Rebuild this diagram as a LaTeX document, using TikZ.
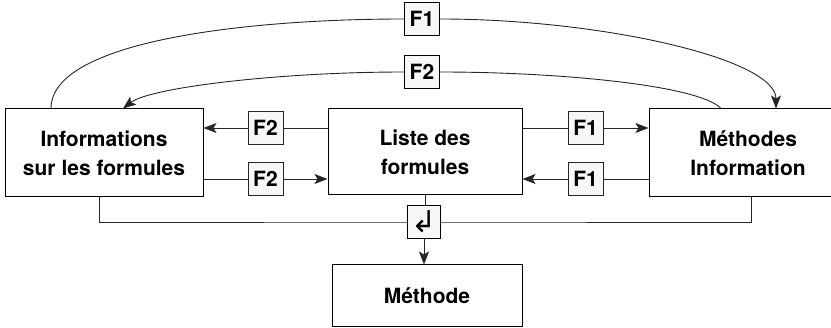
\documentclass[tikz,border=0pt]{standalone}
\usepackage{fontspec}
\setmainfont{TeX Gyre Heros}
\newfontfamily\symfont{DejaVu Sans}
\usetikzlibrary{arrows.meta}

\tikzset{
  bloc/.style={draw, fill=white, line width=1pt, align=center,
    font=\fontsize{21}{29}\selectfont\bfseries},
  etiq/.style={draw, fill=gray!6, line width=0.8pt, minimum width=35pt,
    minimum height=33pt, inner sep=0pt, font=\fontsize{21}{25}\selectfont\bfseries},
  fl/.style={line width=0.9pt, draw=black!85},
  arr/.style={fl, -{Stealth[length=13pt,width=10pt,inset=3pt]}}
}

\begin{document}
\begin{tikzpicture}[x=1pt, y=-1pt]
    \useasboundingbox (0,0) rectangle (831,328);

    % blocs
    \node[bloc, minimum width=198pt, minimum height=88pt] (info) at (104,153) {Informations\\sur les formules};
    \node[bloc, minimum width=194pt, minimum height=86pt] (liste) at (425,152) {Liste des\\formules};
    \node[bloc, minimum width=198pt, minimum height=88pt] (meth) at (748,153) {Méthodes\\Information};
    \node[bloc, minimum width=190pt, minimum height=62pt] (methode) at (427,296) {Méthode};

    % liens du bas
    \draw[fl] ([xshift=-5pt]info.south) |- (425,222) -| ([xshift=3pt]meth.south);
    \draw[fl] (liste.south) -- (425,222);
    \node[etiq, minimum width=33pt, font=\fontsize{30}{30}\selectfont\symfont] (ret) at (424,222) {↲};
    \draw[arr] (ret.south) -- (ret.south |- methode.north);

    % fleches entre les blocs
    \draw[arr] ([yshift=24pt]liste.west) -- node[etiq] {F2} ([yshift=25pt]info.east);
    \draw[arr] ([yshift=-26pt]info.east) -- node[etiq] {F2} ([yshift=-27pt]liste.west);
    \draw[arr] ([yshift=24pt]liste.east) -- node[etiq] {F1} ([yshift=25pt]meth.west);
    \draw[arr] ([yshift=-26pt]meth.west) -- node[etiq] {F1} ([yshift=-27pt]liste.east);

    % courbes du haut
    \node[etiq] (haut1) at (422,19) {F1};
    \node[etiq] (haut2) at (422,72) {F2};
    \draw[arr] ([xshift=-53pt]info.north) .. controls +(0,-68) and +(-155,0) .. (haut1.west)
        (haut1.east) .. controls +(160,0) and +(0,-50) .. ([xshift=28pt]meth.north);
    \draw[arr] ([xshift=-27pt]meth.north) .. controls +(-21,-23) and +(120,0) .. (haut2.east)
        (haut2.west) .. controls +(-125,0) and +(27,-21) .. ([xshift=19pt]info.north);

\end{tikzpicture}
\end{document}
